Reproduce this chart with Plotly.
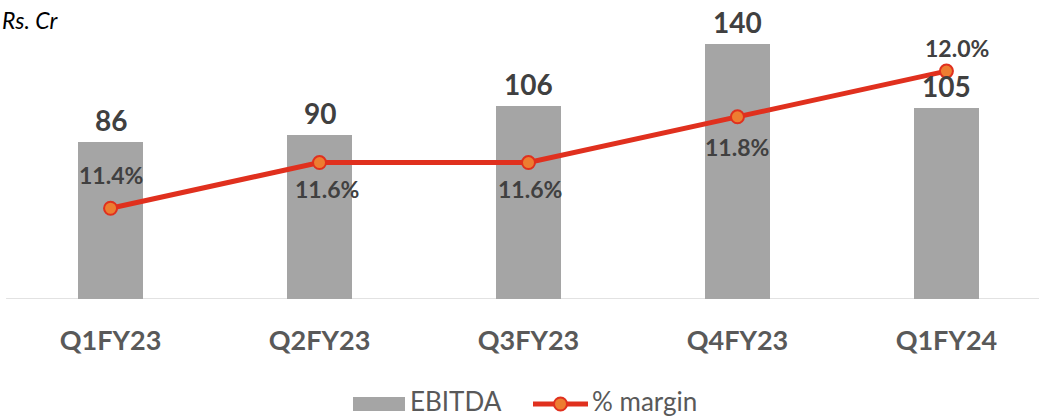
import plotly.graph_objects as go

# Quarterly EBITDA (Rs. Cr) and EBITDA margin (%)
quarters = ["Q1FY23", "Q2FY23", "Q3FY23", "Q4FY23", "Q1FY24"]
ebitda = [86, 90, 106, 140, 105]
margin = [11.4, 11.6, 11.6, 11.8, 12.0]
margin_labels = ["11.4%", "11.6%", "11.6%", "11.8%", "12.0%"]

# label placement for the margin values (pixel offsets from each point)
margin_label_dy = [33, -26, -26, -30, 23]
margin_label_dx = [0, 7, 2, 0, 11]

W, H = 1039, 419
PLOT_BOTTOM = 299  # px from top where the category axis sits

BAR_COLOR = "#A5A5A5"
LINE_COLOR = "#E0301E"
MARKER_COLOR = "#ED7D31"
LABEL_COLOR = "#404040"
AXIS_TEXT = "#595959"
FONT = "Lato"

fig = go.Figure()

fig.add_trace(go.Bar(
    x=quarters, y=ebitda, name="EBITDA",
    marker=dict(color=BAR_COLOR, line=dict(width=0)),
    width=0.311, showlegend=False, hoverinfo="skip",
))

fig.add_trace(go.Scatter(
    x=quarters, y=margin, name="% margin", yaxis="y2",
    mode="lines+markers",
    line=dict(color=LINE_COLOR, width=5),
    marker=dict(size=13, color=MARKER_COLOR, line=dict(color=LINE_COLOR, width=2)),
    showlegend=False, hoverinfo="skip",
))

annotations = []
# EBITDA value labels above bars
for q, v in zip(quarters, ebitda):
    annotations.append(dict(
        x=q, y=v, xref="x", yref="y", text=f"<b>{v}</b>", showarrow=False,
        yanchor="bottom", yshift=3,
        font=dict(family=FONT, size=28, color=LABEL_COLOR),
    ))
# margin labels
for q, m, t, dy, dx in zip(quarters, margin, margin_labels, margin_label_dy, margin_label_dx):
    annotations.append(dict(
        x=q, y=m, xref="x", yref="y2", text=f"<b>{t}</b>", showarrow=False,
        yanchor="middle", yshift=dy, xshift=dx,
        font=dict(family=FONT, size=23, color=LABEL_COLOR),
    ))

def py(p):
    """pixel row -> paper y"""
    return (PLOT_BOTTOM - p) / PLOT_BOTTOM

def px(p):
    return p / W

# unit caption
annotations.append(dict(
    x=px(0), y=py(20), xref="paper", yref="paper", text="<i>Rs. Cr</i>",
    showarrow=False, xanchor="left", yanchor="middle",
    font=dict(family=FONT, size=23, color="#000000"),
))

# legend, drawn at the bottom centre
LEG_Y = 404
for lx, txt in ((409, "EBITDA"), (591, "% margin")):
    annotations.append(dict(
        x=px(lx), y=py(LEG_Y - 3), xref="paper", yref="paper", text=txt,
        showarrow=False, xanchor="left", yanchor="middle", borderpad=0,
        font=dict(family=FONT, size=26, color=AXIS_TEXT),
    ))

shapes = [
    # category axis line
    dict(type="line", xref="x", yref="y", x0=-0.5, x1=4.45, y0=0, y1=0,
         line=dict(color="#D9D9D9", width=1.5), layer="below"),
    # legend swatches
    dict(type="rect", xref="paper", yref="paper",
         x0=px(353), x1=px(405), y0=py(397), y1=py(411),
         fillcolor=BAR_COLOR, line=dict(width=0)),
    dict(type="line", xref="paper", yref="paper",
         x0=px(533), x1=px(588), y0=py(LEG_Y), y1=py(LEG_Y),
         line=dict(color=LINE_COLOR, width=5)),
    dict(type="circle", xref="paper", yref="paper",
         x0=px(554), x1=px(567), y0=py(LEG_Y - 6.5), y1=py(LEG_Y + 6.5),
         fillcolor=MARKER_COLOR, line=dict(color=LINE_COLOR, width=2)),
]

fig.update_layout(
    width=W, height=H,
    margin=dict(l=0, r=0, t=0, b=H - PLOT_BOTTOM, pad=0),
    paper_bgcolor="white", plot_bgcolor="white",
    bargap=0,
    xaxis=dict(
        type="category", range=[-0.529, 4.443],
        showgrid=False, zeroline=False, showline=False, ticks="",
        tickfont=dict(family=FONT, size=27, color=AXIS_TEXT),
        tickprefix="<b>", ticksuffix="</b>",
        ticklabelstandoff=23,
    ),
    yaxis=dict(range=[0, 164.3], visible=False, showgrid=False, zeroline=False),
    yaxis2=dict(range=[11.003, 12.311], overlaying="y", visible=False,
                showgrid=False, zeroline=False),
    annotations=annotations,
    shapes=shapes,
    showlegend=False,
)

fig.write_html("out.html")
